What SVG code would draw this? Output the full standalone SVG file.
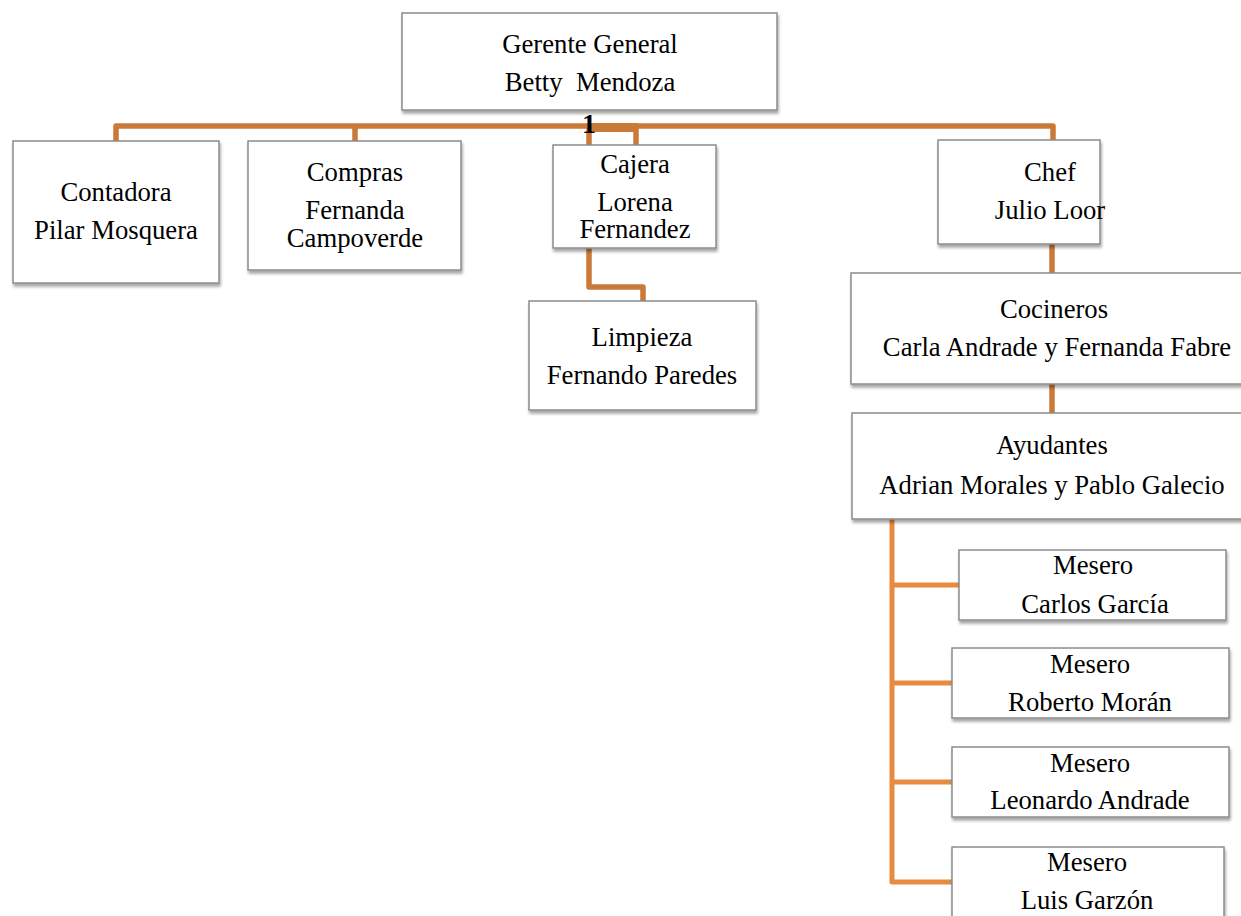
<svg xmlns="http://www.w3.org/2000/svg" width="1241" height="916" viewBox="0 0 1241 916">
<defs>
<filter id="sh" x="-5%" y="-5%" width="115%" height="125%">
<feDropShadow dx="1" dy="3" stdDeviation="1.5" flood-color="#000" flood-opacity="0.35"/>
</filter>
</defs>
<style>
.box{fill:#fff;stroke:#8c8c8c;stroke-width:1.5;filter:url(#sh)}
.t{font-family:"Liberation Serif","Times New Roman",serif;font-size:26.7px;fill:#000;text-anchor:middle}
.c1{fill:none;stroke:#C97A38;stroke-width:5.5;stroke-linejoin:round}
.c2{fill:none;stroke:#E68B3F;stroke-width:5;stroke-linejoin:round}
</style>
<rect width="1241" height="916" fill="#fff"/>
<g id="connectors">
<path class="c1" d="M116 141 V126 H1053 V140"/>
<path class="c1" d="M355 126 V141"/>
<path class="c1" d="M589 126 V145"/>
<path class="c1" d="M636 126 V145"/>
<rect x="587" y="123" width="51" height="9" fill="#C97A38"/>
<path class="c1" d="M589 248 V287 H643 V301"/>
<path class="c1" d="M1052 244 V273"/>
<path class="c1" d="M1052 384 V413"/>
<path class="c2" d="M892 519 V882 H952"/>
<path class="c2" d="M892 585 H959"/>
<path class="c2" d="M892 683 H952"/>
<path class="c2" d="M892 782 H952"/>
</g>
<g id="gerente">
<rect class="box" x="402" y="13" width="375" height="97"/>
<text class="t" x="590" y="53">Gerente General</text>
<text class="t" x="590" y="91" xml:space="preserve">Betty  Mendoza</text>
</g>
<text id="num" x="589" y="133" font-family="Liberation Serif, serif" font-size="28" font-weight="bold" text-anchor="middle">1</text>
<g id="contadora">
<rect class="box" x="13" y="141" width="206" height="142"/>
<text class="t" x="116" y="201">Contadora</text>
<text class="t" x="116" y="239">Pilar Mosquera</text>
</g>
<g id="compras">
<rect class="box" x="248" y="141" width="213" height="129"/>
<text class="t" x="355" y="181">Compras</text>
<text class="t" x="355" y="219">Fernanda</text>
<text class="t" x="355" y="247">Campoverde</text>
</g>
<g id="cajera">
<rect class="box" x="553" y="145" width="163" height="103"/>
<text class="t" x="635" y="173">Cajera</text>
<text class="t" x="635" y="211">Lorena</text>
<text class="t" x="635" y="238">Fernandez</text>
</g>
<g id="limpieza">
<rect class="box" x="529" y="301" width="227" height="109"/>
<text class="t" x="642" y="346">Limpieza</text>
<text class="t" x="642" y="384">Fernando Paredes</text>
</g>
<g id="chef">
<rect class="box" x="938" y="140" width="162" height="104"/>
<text class="t" x="1050" y="181">Chef</text>
<text class="t" x="1050" y="219">Julio Loor</text>
</g>
<g id="cocineros">
<rect class="box" x="851" y="273" width="400" height="111"/>
<text class="t" x="1054" y="318">Cocineros</text>
<text class="t" x="1057" y="356">Carla Andrade y Fernanda Fabre</text>
</g>
<g id="ayudantes">
<rect class="box" x="852" y="413" width="400" height="106"/>
<text class="t" x="1052" y="454">Ayudantes</text>
<text class="t" x="1052" y="494">Adrian Morales y Pablo Galecio</text>
</g>
<g id="mesero1">
<rect class="box" x="959" y="550" width="267" height="70"/>
<text class="t" x="1093" y="574">Mesero</text>
<text class="t" x="1095" y="613">Carlos García</text>
</g>
<g id="mesero2">
<rect class="box" x="952" y="648" width="277" height="70"/>
<text class="t" x="1090" y="673">Mesero</text>
<text class="t" x="1090" y="711">Roberto Morán</text>
</g>
<g id="mesero3">
<rect class="box" x="952" y="747" width="277" height="70"/>
<text class="t" x="1090" y="772">Mesero</text>
<text class="t" x="1090" y="809">Leonardo Andrade</text>
</g>
<g id="mesero4">
<rect class="box" x="952" y="847" width="272" height="80"/>
<text class="t" x="1087" y="871">Mesero</text>
<text class="t" x="1087" y="909">Luis Garzón</text>
</g>
</svg>
